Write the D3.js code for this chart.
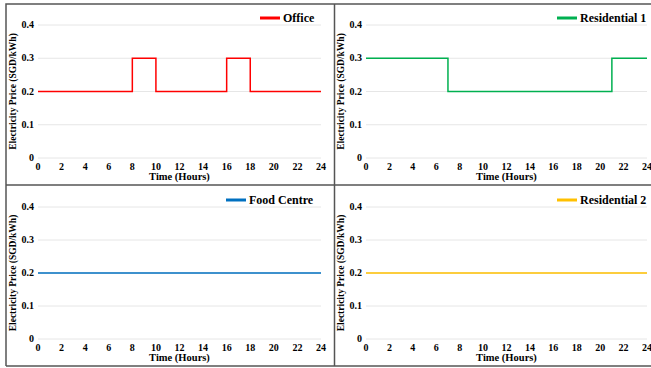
<!DOCTYPE html>
<html>
<head>
<meta charset="utf-8">
<script src="https://d3js.org/d3.v7.min.js"></script>
<style>
  body { margin: 0; background: #fff; }
  text { font-family: "Liberation Serif", "Times New Roman", serif; font-weight: bold; }
</style>
</head>
<body>
<script>
  // hours and prices (step after)
  var officeHours = [0, 8, 10, 16, 18, 24];
  var officePrice = [0.2, 0.3, 0.2, 0.3, 0.2, 0.2];
  var res1Hours = [0, 7, 21, 24];
  var res1Price = [0.3, 0.2, 0.3, 0.3];
  var foodHours = [0, 24];
  var foodPrice = [0.2, 0.2];
  var res2Hours = [0, 24];
  var res2Price = [0.2, 0.2];

  var names = ["Office", "Residential 1", "Food Centre", "Residential 2"];
  var colors = ["#ff0000", "#00b050", "#0070c0", "#ffc000"];
  var xTicks = [0, 2, 4, 6, 8, 10, 12, 14, 16, 18, 20, 22, 24];
  var yTicks = [0, 0.1, 0.2, 0.3, 0.4];

  var series = [
    d3.zip(officeHours, officePrice),
    d3.zip(res1Hours, res1Price),
    d3.zip(foodHours, foodPrice),
    d3.zip(res2Hours, res2Price)
  ];

  var svg = d3.select("body")
    .append("svg")
    .attr("width", 651)
    .attr("height", 368);

  // panel layout: plot area and legend spot
  var panels = [
    {x0: 38, x1: 321, y0: 158, y1: 25, legX: 260, legY: 18},
    {x0: 366, x1: 647, y0: 158, y1: 25, legX: 557, legY: 18},
    {x0: 38, x1: 321, y0: 339, y1: 207, legX: 226, legY: 200},
    {x0: 366, x1: 647, y0: 339, y1: 207, legX: 557, legY: 200}
  ];

  panels.forEach(function(p, i) {
    var x = d3.scaleLinear().domain([0, 24]).range([p.x0, p.x1]);
    var y = d3.scaleLinear().domain([0, 0.4]).range([p.y0, p.y1]);
    var g = svg.append("g");

    // gridlines
    g.selectAll("line.grid")
      .data(yTicks)
      .enter()
      .append("line")
      .attr("class", "grid")
      .attr("x1", p.x0)
      .attr("x2", p.x1)
      .attr("y1", function(d){ return y(d); })
      .attr("y2", function(d){ return y(d); })
      .style("stroke", "#e6e6e6")
      .style("stroke-width", 1);

    // y tick labels
    g.selectAll("text.yt")
      .data(yTicks)
      .enter()
      .append("text")
      .attr("class", "yt")
      .attr("x", p.x0 - 4)
      .attr("y", function(d){ return y(d) + 3; })
      .attr("text-anchor", "end")
      .style("font-size", "10px")
      .text(function(d){ return d === 0 ? "0" : d3.format(".1f")(d); });

    // x tick labels
    g.selectAll("text.xt")
      .data(xTicks)
      .enter()
      .append("text")
      .attr("class", "xt")
      .attr("x", function(d){ return x(d); })
      .attr("y", p.y0 + 12)
      .attr("text-anchor", "middle")
      .style("font-size", "10px")
      .text(function(d){ return d; });

    g.append("text")
      .attr("x", (p.x0 + p.x1) / 2)
      .attr("y", p.y0 + 22)
      .attr("text-anchor", "middle")
      .style("font-size", "10.5px")
      .text("Time (Hours)");

    g.append("text")
      .attr("transform", "translate(" + (p.x0 - 22) + "," + ((p.y0 + p.y1) / 2) + ") rotate(-90)")
      .attr("text-anchor", "middle")
      .style("font-size", "9.5px")
      .text("Electricity Price (SGD/kWh)");

    var line = d3.line()
      .x(function(d){ return x(d[0]); })
      .y(function(d){ return y(d[1]); })
      .curve(d3.curveStepAfter);

    g.append("path")
      .datum(series[i])
      .attr("d", line)
      .style("fill", "none")
      .style("stroke", colors[i])
      .style("stroke-width", 1.5);

    // legend
    g.append("line")
      .attr("x1", p.legX)
      .attr("x2", p.legX + 20)
      .attr("y1", p.legY)
      .attr("y2", p.legY)
      .style("stroke", colors[i])
      .style("stroke-width", 3);

    g.append("text")
      .attr("x", p.legX + 23)
      .attr("y", p.legY + 4)
      .style("font-size", "12px")
      .text(names[i]);
  });

  // panel borders
  var border = "#555";
  svg.append("path")
    .attr("d", "M6,366 V4 H651 M334.5,4 V366 M6,185 H651 M6,366 H651")
    .style("fill", "none")
    .style("stroke", border)
    .style("stroke-width", 1.5);
</script>
</body>
</html>
